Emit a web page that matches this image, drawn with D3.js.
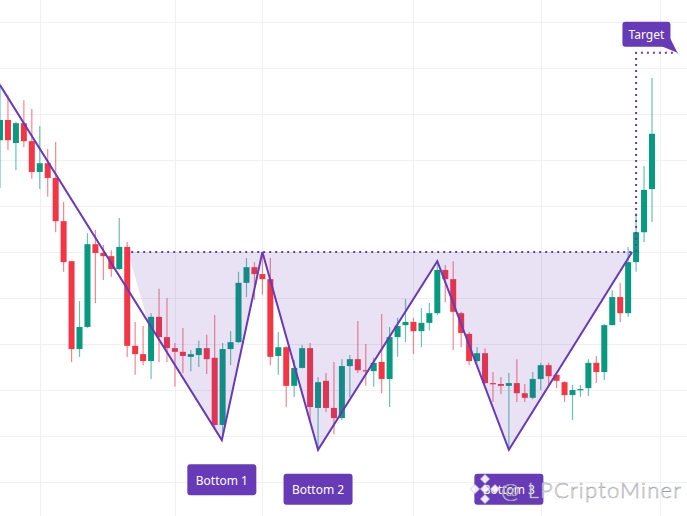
<!DOCTYPE html>
<html>
<head>
<meta charset="utf-8">
<script src="https://cdn.jsdelivr.net/npm/d3@7"></script>
<style>
  html, body { margin: 0; padding: 0; background: #ffffff; }
  svg { display: block; }
</style>
</head>
<body>
<div id="chart"></div>
<script>
// ---- data (prices) ----
const opens = [
  174.3, 178.7, 173.7, 178.0, 174.1, 167.4, 169.3, 166.1, 156.7, 148.0,
  128.9, 133.7, 151.7, 149.8, 149.1, 146.3, 151.1, 129.6, 127.8, 126.3,
  135.9, 131.5, 129.1, 128.3, 127.2, 127.6, 129.1, 127.0, 112.4, 128.9,
  130.4, 143.3, 146.7, 145.2, 144.1, 127.4, 129.3, 120.9, 124.8, 129.1,
  116.1, 122.0, 116.1, 113.9, 125.2, 126.7, 124.3, 124.1, 126.1, 122.4,
  131.5, 134.1, 134.8, 132.8, 134.6, 136.7, 146.1, 144.1, 136.7, 132.2,
  126.3, 128.0, 121.5, 121.3, 120.9, 121.5, 119.3, 118.3, 122.4, 125.4,
  123.3, 121.7, 118.9, 120.0, 120.4, 125.9, 123.9, 134.1, 140.2, 136.7,
  147.8, 154.3, 163.7
];
const highs = [
  186.7, 184.1, 178.3, 183.0, 181.1, 177.4, 172.4, 173.9, 160.9, 148.0,
  139.3, 154.1, 154.8, 151.5, 150.4, 157.4, 152.2, 134.8, 133.9, 136.7,
  142.0, 140.0, 130.2, 133.5, 128.7, 130.7, 132.0, 136.3, 130.2, 132.8,
  145.7, 148.7, 147.8, 149.8, 148.7, 132.6, 129.5, 126.5, 129.8, 130.2,
  122.8, 123.7, 126.1, 126.7, 127.6, 135.0, 130.0, 127.0, 136.5, 133.7,
  135.7, 139.8, 135.7, 137.8, 138.9, 148.0, 147.2, 148.0, 137.0, 132.6,
  129.3, 129.1, 123.9, 122.8, 123.7, 126.7, 121.3, 123.9, 125.9, 125.9,
  123.9, 121.9, 121.1, 121.1, 126.7, 127.4, 134.3, 141.7, 143.3, 151.1,
  158.5, 168.7, 187.8
];
const lows = [
  163.9, 172.2, 167.8, 172.8, 165.9, 163.7, 162.0, 154.3, 145.7, 126.1,
  127.2, 133.5, 138.9, 143.9, 144.6, 146.1, 127.2, 123.3, 125.4, 122.4,
  126.1, 126.1, 120.7, 123.7, 124.1, 125.0, 123.5, 111.3, 110.2, 125.4,
  130.2, 140.2, 139.6, 140.7, 125.4, 123.3, 116.3, 118.5, 124.7, 113.0,
  106.7, 115.2, 110.4, 113.5, 118.5, 123.7, 120.9, 120.7, 119.3, 116.3,
  127.2, 130.4, 127.8, 129.3, 133.0, 136.3, 139.1, 128.7, 129.3, 125.4,
  125.9, 121.3, 117.4, 119.1, 107.0, 117.4, 117.4, 118.0, 120.0, 120.7,
  120.4, 117.4, 113.5, 118.5, 118.7, 121.5, 122.2, 134.1, 134.8, 135.9,
  145.7, 152.2, 156.5
];
const closes = [
  178.7, 174.3, 178.0, 174.1, 167.4, 169.3, 166.1, 156.7, 147.8, 128.9,
  133.7, 151.7, 149.8, 149.1, 146.3, 151.1, 129.6, 127.8, 126.3, 135.9,
  131.5, 129.1, 128.3, 127.4, 127.8, 129.1, 126.7, 112.4, 128.9, 130.4,
  143.3, 146.7, 145.2, 144.1, 127.2, 129.3, 120.9, 124.8, 129.1, 116.3,
  121.7, 116.1, 113.9, 125.2, 126.7, 124.3, 124.1, 125.9, 122.4, 131.5,
  133.9, 134.8, 132.8, 134.6, 136.7, 146.1, 144.1, 137.0, 132.4, 126.3,
  128.0, 121.5, 121.3, 120.9, 121.5, 119.3, 118.3, 122.4, 125.4, 123.0,
  122.0, 118.9, 120.0, 120.2, 125.9, 123.9, 134.1, 140.2, 136.7, 147.8,
  154.3, 163.5, 175.7
];

// grid
const priceTicks = [100, 110, 120, 130, 140, 150, 160, 170, 180, 190, 200];
const timeTicks = [5, 22, 33, 52, 68, 83];

// triple-bottom pattern (bar index, price)
const patternIdx   = [0, 27.9, 33, 40, 55, 64, 79.5];
const patternPrice = [186.3, 109.1, 150.0, 107.0, 148.0, 107.0, 150.0];
const necklinePrice = 150.0;
const necklineStart = 16.5;
const fillStart = [16.1, 150.0];
const fillCross = [18.6, 134.8];
const bottomIdx = [1, 3, 5];   // positions inside pattern arrays
const bottomLabels = ["Bottom 1", "Bottom 2", "Bottom 3"];

const targetIdx = 80;
const targetPrice = 193.3;
const targetEndIdx = 85.2;
const targetLabel = "Target";

const watermark = "@ LPCriptoMiner";

// ---- drawing ----
const W = 687, H = 516;
const GREEN = "#089981", RED = "#f23645", PURPLE = "#673ab7";

const svg = d3.select("#chart").append("svg")
  .attr("width", W).attr("height", H);

const x = d3.scaleLinear().domain([0, 82]).range([0, 652]);
const y = d3.scaleLinear().domain([100, 200]).range([482, 22]);

// grid
svg.append("g").selectAll("line").data(priceTicks).join("line")
  .attr("x1", 0).attr("x2", W)
  .attr("y1", d => Math.round(y(d)) + 0.5).attr("y2", d => Math.round(y(d)) + 0.5)
  .attr("stroke", "#eef0f4").attr("stroke-width", 1);
svg.append("g").selectAll("line").data(timeTicks).join("line")
  .attr("y1", 0).attr("y2", H)
  .attr("x1", d => Math.round(x(d)) + 0.5).attr("x2", d => Math.round(x(d)) + 0.5)
  .attr("stroke", "#eef0f4").attr("stroke-width", 1);

const bars = opens.map((o, i) => ({ i, o, h: highs[i], l: lows[i], c: closes[i] }));
const bw = 6;

const cg = svg.append("g");
cg.selectAll("line.wick").data(bars).join("line")
  .attr("class", "wick")
  .attr("x1", d => x(d.i)).attr("x2", d => x(d.i))
  .attr("y1", d => y(d.h)).attr("y2", d => y(d.l))
  .attr("stroke", d => d.c >= d.o ? GREEN : RED)
  .attr("stroke-opacity", 0.6)
  .attr("stroke-width", 1.2);
cg.selectAll("rect.body").data(bars).join("rect")
  .attr("class", "body")
  .attr("x", d => x(d.i) - bw / 2)
  .attr("width", bw)
  .attr("y", d => y(Math.max(d.o, d.c)))
  .attr("height", d => Math.max(1.2, Math.abs(y(d.o) - y(d.c))))
  .attr("fill", d => d.c >= d.o ? GREEN : RED);

// pattern fill
const pts = patternIdx.map((d, k) => [x(d), y(patternPrice[k])]);
const fillPts = [[x(fillStart[0]), y(fillStart[1])], [x(fillCross[0]), y(fillCross[1])]]
  .concat(pts.slice(1));
svg.append("path")
  .attr("d", d3.line()(fillPts) + "Z")
  .attr("fill", PURPLE).attr("fill-opacity", 0.15);

// neckline
svg.append("line")
  .attr("x1", x(necklineStart)).attr("x2", x(patternIdx[6]))
  .attr("y1", y(necklinePrice)).attr("y2", y(necklinePrice))
  .attr("stroke", PURPLE).attr("stroke-width", 2)
  .attr("stroke-dasharray", "2,4");

// target dotted lines
svg.append("path")
  .attr("d", d3.line()([[x(targetIdx), y(necklinePrice)], [x(targetIdx), y(targetPrice)], [x(targetEndIdx), y(targetPrice)]]))
  .attr("fill", "none")
  .attr("stroke", PURPLE).attr("stroke-width", 2)
  .attr("stroke-dasharray", "2,4");

// pattern polyline
svg.append("path")
  .attr("d", d3.line()(pts))
  .attr("fill", "none")
  .attr("stroke", PURPLE).attr("stroke-width", 2)
  .attr("stroke-linejoin", "miter");

// bottom labels
const lg = svg.append("g");
bottomIdx.forEach((k, j) => {
  const cx = pts[k][0], cy = pts[k][1] + 40;
  lg.append("rect")
    .attr("x", cx - 34.5).attr("y", cy - 16)
    .attr("width", 69).attr("height", 31).attr("rx", 3)
    .attr("fill", PURPLE);
  lg.append("text")
    .attr("x", cx).attr("y", cy)
    .attr("text-anchor", "middle").attr("dominant-baseline", "central")
    .attr("font-family", "Noto Sans, sans-serif").attr("font-size", 12)
    .attr("fill", "#ffffff")
    .text(bottomLabels[j]);
});

// target label
const tx = x(targetEndIdx), ty = y(targetPrice);
lg.append("path")
  .attr("d", `M${tx - 17},${ty - 7} L${tx},${ty} L${tx - 7},${ty - 14} Z`)
  .attr("fill", PURPLE);
lg.append("rect")
  .attr("x", tx - 55).attr("y", ty - 31)
  .attr("width", 48).attr("height", 25).attr("rx", 3)
  .attr("fill", PURPLE);
lg.append("text")
  .attr("x", tx - 31).attr("y", ty - 18.5)
  .attr("text-anchor", "middle").attr("dominant-baseline", "central")
  .attr("font-family", "Noto Sans, sans-serif").attr("font-size", 12)
  .attr("fill", "#ffffff")
  .text(targetLabel);

// watermark (overlaps the Bottom 3 label, as in the original)
const wm = svg.append("g");
const lc = [485, 489];
const dia = (cx, cy, r) => `M${cx},${cy - r} L${cx + r},${cy} L${cx},${cy + r} L${cx - r},${cy} Z`;
[[0, 0, 4.5], [0, -10, 4.5], [0, 10, 4.5], [-10, 0, 4.5], [10, 0, 4.5]].forEach(([dx, dy, r]) => {
  wm.append("path").attr("d", dia(lc[0] + dx, lc[1] + dy, r))
    .attr("fill", "#ffffff").attr("fill-opacity", 0.9)
    .attr("stroke", "#c4c0d4").attr("stroke-width", 0.8);
});
wm.append("text")
  .attr("x", 501).attr("y", 498)
  .attr("font-family", "Lato, Noto Sans, sans-serif").attr("font-size", 22)
  .attr("font-weight", 300)
  .attr("fill", "#ffffff").attr("stroke", "#9a9aa4").attr("stroke-width", 0.5)
  .attr("textLength", 180)
  .text(watermark);
</script>
</body>
</html>
